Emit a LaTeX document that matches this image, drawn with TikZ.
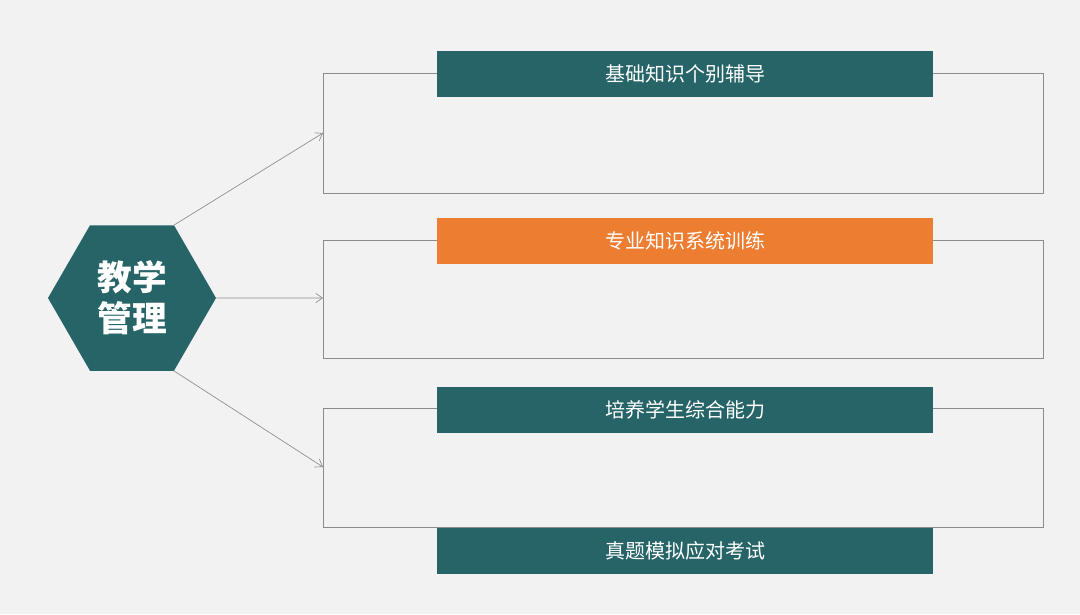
\documentclass[tikz,border=0pt]{standalone}
\usepackage{fontspec}
\newfontfamily\cjk{Noto Sans CJK SC}
\usetikzlibrary{shapes.geometric,arrows.meta}
\definecolor{teal1}{RGB}{38,100,104}
\definecolor{orange1}{RGB}{237,125,49}
\definecolor{line1}{RGB}{140,140,140}
\begin{document}
\begin{tikzpicture}[x=0.75pt,y=0.75pt,yscale=-1,
  header/.style={fill=teal1,minimum width=372pt,minimum height=34.5pt,inner sep=0pt,text=white,font=\cjk\fontsize{15}{17}\selectfont},
  frame/.style={draw=line1,line width=0.6pt},
  link/.style={draw=line1,line width=0.5pt,-{Straight Barb[length=5pt,width=7pt]}}]
\useasboundingbox[fill=white!95!black] (0,0) rectangle (1080,614);
% hexagon
\node (hub) [regular polygon,regular polygon sides=6,fill=teal1,minimum size=126pt,inner sep=0pt,text=white,align=center,font=\cjk\bfseries\fontsize{26}{31}\selectfont] at (132,298) {教学\\管理};
% frames
\draw[frame] (323,73) rectangle (1043,193);
\draw[frame] (323,240) rectangle (1043,358);
\draw[frame] (323,408) rectangle (1043,527);
\coordinate (in1) at (323,133);
\coordinate (in2) at (323,298);
\coordinate (in3) at (323,467);
% headers
\node (h1) [header] at (685,74) {基础知识个别辅导};
\node (h2) [header,fill=orange1] at (685,240.5) {专业知识系统训练};
\node (h3) [header] at (685,409.5) {培养学生综合能力};
\node (h4) [header] at (685,550.5) {真题模拟应对考试};
% links
\draw[link] (hub.60) -- (in1);
\draw[link] (hub.0) -- (in2);
\draw[link] (hub.-60) -- (in3);
\end{tikzpicture}
\end{document}
